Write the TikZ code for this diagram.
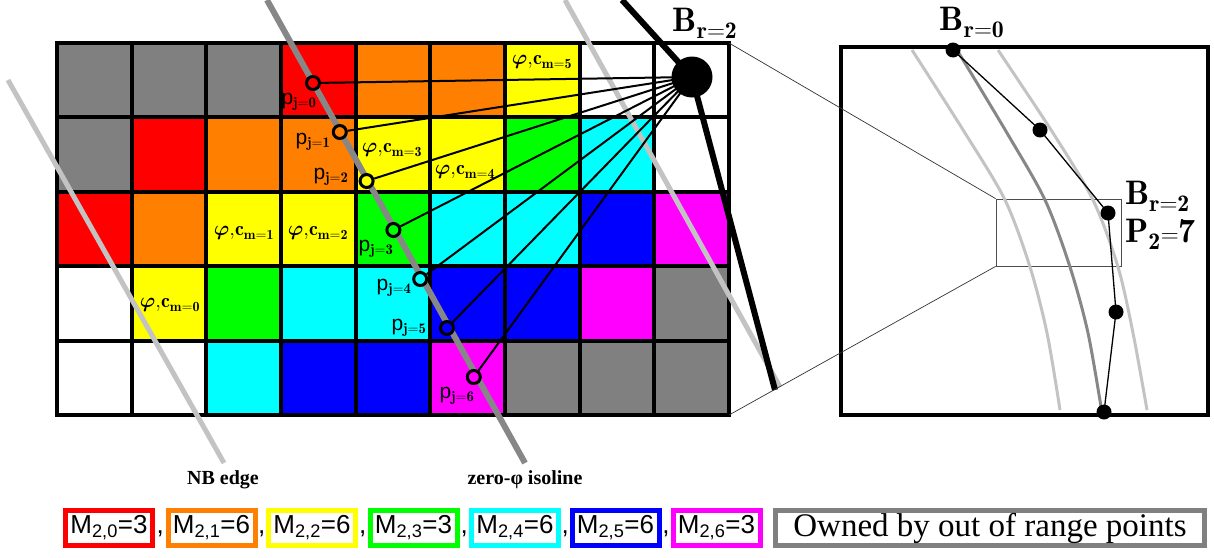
\documentclass[tikz,border=0pt]{standalone}
\usepackage{fontspec}
\usepackage{bm}
\usetikzlibrary{calc}
\newfontfamily\sanslabel{Liberation Sans}
\newfontfamily\seriflabel{Liberation Serif}
\definecolor{edgegray}{RGB}{195,195,195}
\definecolor{isogray}{RGB}{135,135,135}
\definecolor{cellred}{RGB}{255,0,0}
\definecolor{cellorange}{RGB}{255,128,0}
\definecolor{cellyellow}{RGB}{255,255,0}
\definecolor{cellgreen}{RGB}{0,255,0}
\definecolor{cellcyan}{RGB}{0,255,255}
\definecolor{cellblue}{RGB}{0,0,255}
\definecolor{cellmagenta}{RGB}{255,0,255}
\definecolor{cellgray}{RGB}{128,128,128}
\definecolor{cellwhite}{RGB}{255,255,255}
\newcommand{\plab}[1]{{\sanslabel p}$_{\mathbf{j=#1}}$}
\newcommand{\phic}[1]{$\bm{\varphi}\mathbf{\mathord{,}c}_{\mathbf{m=#1}}$}
\begin{document}
\begin{tikzpicture}[x=1pt, y=-1pt,
  gridline/.style={line width=4pt, line cap=rect},
  nbedge/.style={line width=5pt, edgegray},
  isoline/.style={line width=6pt, isogray},
  bline/.style={line width=6pt},
  ray/.style={line width=2pt},
  pmark/.style={circle, draw, line width=3pt, minimum size=13pt, inner sep=0pt},
  plabel/.style={font=\fontsize{21}{21}\selectfont, inner sep=0pt},
  philabel/.style={font=\fontsize{20}{20}\selectfont, inner sep=0pt},
  blabel/.style={font=\fontsize{34}{33}\selectfont, inner sep=0pt},
  edgelabel/.style={font=\fontsize{20}{20}\selectfont\seriflabel\bfseries, inner sep=0pt},
  legbox/.style={draw, line width=5pt, fill=white, minimum width=87pt, minimum height=35pt, inner sep=0pt,
    font=\fontsize{26}{26}\selectfont\sanslabel},
  legcomma/.style={font=\fontsize{26}{26}\selectfont\sanslabel, anchor=base, inner sep=0pt},
  zoomline/.style={line width=0.7pt, black!80},
  insetcurve/.style={line width=3pt, edgegray},
  bdot/.style={circle, fill, minimum size=15pt, inner sep=0pt},
  bpoly/.style={line width=1.3pt}]
  \useasboundingbox (0,0) rectangle (1214,557);

  \foreach \row/\cols in {0/{gray,gray,gray,red,orange,orange,yellow,white,white},
                          1/{gray,red,orange,orange,yellow,yellow,green,cyan,white},
                          2/{red,orange,yellow,yellow,green,cyan,cyan,blue,magenta},
                          3/{white,yellow,green,cyan,cyan,blue,blue,magenta,gray},
                          4/{white,white,cyan,blue,blue,magenta,gray,gray,gray}} {
    \foreach \c [count=\col from 0] in \cols
      \fill[cell\c] (57+74.67*\col,43+74.4*\row) rectangle ++(74.67,74.4);
  }
  \foreach \i in {1,...,8}
    \draw[gridline] (57+74.67*\i,43) -- (57+74.67*\i,415);
  \foreach \j in {1,...,4}
    \draw[gridline] (57,43+74.4*\j) -- (729,43+74.4*\j);
  \draw[gridline] (57,43) rectangle (729,415);
  \coordinate (gNE) at (729,43);
  \coordinate (gSE) at (729,415);

  \draw[nbedge] (8,80) -- (224,463) coordinate (nbEnd);
  \draw[nbedge] (565,0) -- (780,387);
  \draw[isoline] (267,0) -- (525,463) coordinate (isoEnd);

  \coordinate (BrC) at (692,77);
  \draw[bline] (622,0) -- (BrC) -- (775,390);

  \foreach \j/\c/\lx/\ly in {0/red/299/102, 1/orange/313/142, 2/yellow/331/177, 3/green/376/249,
                             4/cyan/394/288, 5/blue/409/328, 6/magenta/457/396} {
    \node[pmark, fill=cell\c] (p\j) at (313+26.8*\j,83+49*\j) {};
    \draw[ray] (BrC) -- (p\j);
    \node[plabel] (pl\j) at (\lx,\ly) {\plab{\j}};
  }
  \node[circle, fill, minimum size=41pt, inner sep=0pt] (Br) at (BrC) {};
  \node[blabel] (BrLabel) at (705,23) {$\mathbf{B}_{\mathbf{r=2}}$};

  \foreach \m/\x/\y in {0/170/305, 1/244/233, 2/318/233, 3/392/150, 4/465/172, 5/542/62}
    \node[philabel] (phi\m) at (\x,\y) {\phic{\m}};

  \node[edgelabel] (nbLabel) at (223,480) {NB edge};
  \node[edgelabel] (isoLabel) at (525,480) {zero-φ isoline};

  \draw[line width=3.5pt] (841,47) rectangle (1208,415);
  \node[draw=black!70, line width=0.8pt, minimum width=125pt, minimum height=67pt, inner sep=0pt] (zoomBox) at (1058.5,232.5) {};
  \draw[zoomline] (gNE) -- (zoomBox.north west);
  \draw[zoomline] (gSE) -- (zoomBox.south west);

  \draw[insetcurve] plot[smooth] coordinates {(912,50) (965,133) (1005,200) (1030,267) (1047,333) (1060,410)};
  \draw[insetcurve] plot[smooth] coordinates {(998,50) (1053,133) (1093,200) (1118,267) (1133,333) (1147,410)};
  \draw[insetcurve, isogray] plot[smooth] coordinates {(957,50) (1007,133) (1045,200) (1070,267) (1088,333) (1102,413)};

  \foreach \k/\x/\y in {0/953/50, 1/1040/130, 2/1108/213, 3/1116/312, 4/1104/412}
    \node[bdot] (b\k) at (\x,\y) {};
  \draw[bpoly] (b0.center) -- (b1.center) -- (b2.center) -- (b3.center) -- (b4.center);
  \node[blabel] (b0Label) at (972,22) {$\mathbf{B}_{\mathbf{r=0}}$};
  \node[blabel, align=left, anchor=north west] (b2Label) at (1125,181)
    {$\mathbf{B}_{\mathbf{r=2}}$\\[5pt]$\mathbf{P}_{\mathbf{2}}\mathbf{\mathord{=}7}$};

  \foreach \i/\c/\v/\x in {0/red/3/109, 1/orange/6/211.5, 2/yellow/6/312, 3/green/3/413.5,
                           4/cyan/6/515, 5/blue/6/615.5, 6/magenta/3/716.5}
    \node[legbox, draw=cell\c] (leg\i) at (\x,528) {M\textsubscript{2,\i}=\v};
  \foreach \i [evaluate=\i as \j using int(\i+1)] in {0,...,5}
    \node[legcomma] (comma\i) at ($(leg\i.base east)!0.5!(leg\j.base west)$) {,};
  \node[legbox, draw=cellgray, minimum width=429pt, font=\fontsize{33}{33}\selectfont\seriflabel] (legOut) at (990,528) {Owned by out of range points};
\end{tikzpicture}
\end{document}
